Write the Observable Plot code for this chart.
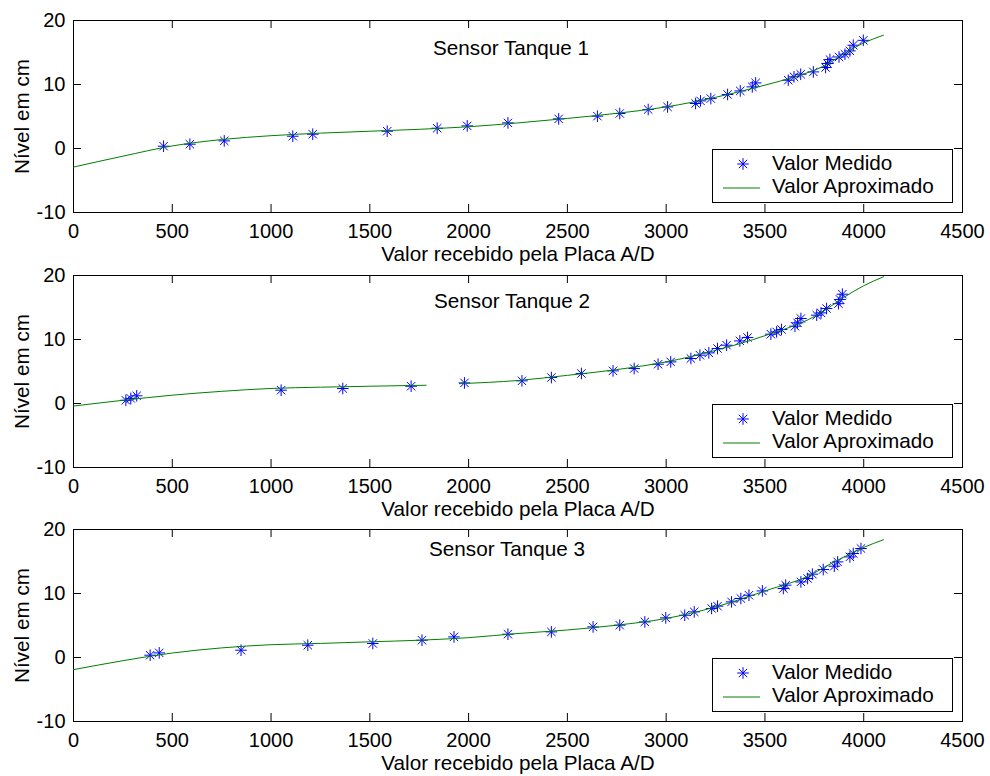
<!DOCTYPE html>
<html><head><meta charset="utf-8">
<script src="https://cdn.jsdelivr.net/npm/d3@7"></script>
<script src="https://cdn.jsdelivr.net/npm/@observablehq/plot@0.6"></script>
<style>
body{margin:0;background:#fff}
#chart{position:relative;width:990px;height:776px;overflow:hidden;background:#fff}
#chart svg{position:absolute;left:0}
</style>
</head><body><div id="chart"></div>
<script>
const xTicks = [0,500,1000,1500,2000,2500,3000,3500,4000,4500];
const yTicks = [-10,0,10,20];
const xLabel = "Valor recebido pela Placa A/D";
const yLabel = "Nível em cm";
const titles = ["Sensor Tanque 1","Sensor Tanque 2","Sensor Tanque 3"];
const legendLabels = ["Valor Medido","Valor Aproximado"];

// Tanque 1
const med1X = [456,589,763,1110,1211,1588,1841,1993,2199,2456,2652,2765,2909,3007,3149,3174,3226,3311,3375,3436,3453,3618,3647,3681,3745,3807,3817,3829,3875,3905,3930,3947,3998];
const med1Y = [0.36,0.67,1.19,1.92,2.23,2.70,3.17,3.53,4.0,4.63,5.05,5.47,6.09,6.5,7.03,7.44,7.8,8.44,9.0,9.63,10.25,10.67,11.2,11.6,11.97,12.66,13.28,13.9,14.3,14.73,15.25,16.14,16.9];
const apr1X = [0,250,500,750,1000,1250,1500,1750,2000,2250,2500,2750,3000,3250,3500,3650,3800,3900,4000,4100];
const apr1Y = [-2.9,-1.2,0.4,1.4,2.0,2.4,2.7,3.0,3.4,4.0,4.7,5.5,6.5,8.0,9.9,11.2,12.9,14.8,16.5,17.7];

// Tanque 2
const med2X = [265,290,320,1051,1363,1709,1979,2270,2419,2571,2731,2838,2959,3023,3125,3171,3216,3260,3306,3373,3412,3530,3559,3584,3652,3665,3682,3762,3784,3812,3872,3880,3892];
const med2Y = [0.5,0.8,1.2,2.08,2.34,2.7,3.22,3.54,4.06,4.69,5.1,5.46,6.14,6.5,7.03,7.55,7.91,8.59,9.11,9.78,10.31,10.83,11.19,11.56,12.08,12.6,13.28,13.8,14.16,14.84,15.6,16.25,17.08];
const apr2aX = [0,250,500,750,1000,1250,1500,1785];
const apr2aY = [-0.4,0.5,1.3,1.9,2.35,2.55,2.7,2.85];
const apr2bX = [1954,2250,2500,2750,3000,3250,3500,3750,3800,3900,4000,4100];
const apr2bY = [3.1,3.6,4.4,5.3,6.5,8.3,10.6,13.6,14.5,16.6,18.4,19.8];

// Tanque 3
const med3X = [388,434,848,1186,1515,1764,1926,2199,2419,2630,2765,2892,2998,3094,3142,3230,3260,3331,3378,3419,3487,3593,3605,3682,3716,3740,3795,3851,3868,3930,3947,3986];
const med3Y = [0.36,0.72,1.14,1.92,2.19,2.7,3.22,3.64,4.0,4.78,5.05,5.56,6.19,6.6,7.13,7.66,8.02,8.69,9.22,9.73,10.4,10.78,11.3,11.81,12.34,13.02,13.75,14.27,14.94,15.72,16.25,17.03];
const apr3X = [0,250,500,750,1000,1250,1500,1750,2000,2250,2500,2750,3000,3250,3500,3750,3800,3900,4000,4100];
const apr3Y = [-1.9,-0.5,0.7,1.5,2.0,2.2,2.45,2.7,3.1,3.75,4.3,5.05,6.1,7.9,10.4,13.2,14.1,15.7,17.2,18.4];

const zip = (xs, ys, seg=0) => xs.map((x,i)=>({x, y: ys[i], seg}));
const panels = [
  {title: titles[0], med: zip(med1X, med1Y), apr: zip(apr1X, apr1Y), top: 0, tdx: -7, tdy: 28},
  {title: titles[1], med: zip(med2X, med2Y), apr: [...zip(apr2aX, apr2aY, 0), ...zip(apr2bX, apr2bY, 1)], top: 255, tdx: -6, tdy: 26},
  {title: titles[2], med: zip(med3X, med3Y), apr: zip(apr3X, apr3Y), top: 509, tdx: -11, tdy: 20}
];

const star = {draw(ctx, size){
  const r = Math.sqrt(size/Math.PI), d = r*0.72;
  ctx.moveTo(-r,0); ctx.lineTo(r,0);
  ctx.moveTo(0,-r); ctx.lineTo(0,r);
  ctx.moveTo(-d,-d); ctx.lineTo(d,d);
  ctx.moveTo(-d,d); ctx.lineTo(d,-d);
}};

const W = 990, ML = 73, MR = 28, MT = 20, H = 267, FH = 192, MB = H - MT - FH;
const FW = W - ML - MR;
const font = "'Liberation Sans', Arial, Helvetica, sans-serif";
const TFS = 20.7;
const chart = document.getElementById("chart");

for (const p of panels) {
  const svg = Plot.plot({
    width: W, height: H,
    marginLeft: ML, marginRight: MR, marginTop: MT, marginBottom: MB,
    style: {fontSize: "20px", fontFamily: font, color: "black", background: "transparent", overflow: "visible"},
    x: {domain: [0, 4500]},
    y: {domain: [-10, 20]},
    marks: [
      Plot.frame({stroke: "black", strokeWidth: 1}),
      Plot.tickX(xTicks, {x: d => d, insetTop: FH - 8, stroke: "black"}),
      Plot.tickX(xTicks, {x: d => d, insetBottom: FH - 8, stroke: "black"}),
      Plot.tickY(yTicks, {y: d => d, insetRight: FW - 8, stroke: "black"}),
      Plot.tickY(yTicks, {y: d => d, insetLeft: FW - 8, stroke: "black"}),
      Plot.axisX(xTicks, {tickSize: 0, tickPadding: 11, label: null, tickFormat: d => String(d)}),
      Plot.axisY(yTicks, {tickSize: 0, tickPadding: 8, label: null, tickFormat: d => String(d)}),
      Plot.dot(p.med, {x: "x", y: "y", symbol: star, r: 5.8, stroke: "#0000ff", fill: "none", strokeWidth: 1}),
      Plot.line(p.apr, {x: "x", y: "y", z: "seg", stroke: "#008000", strokeWidth: 1, curve: "monotone-x"}),
      Plot.text([p.title], {text: d => d, frameAnchor: "top", lineAnchor: "middle", textAnchor: "middle", dx: p.tdx, dy: p.tdy, fill: "black", fontSize: TFS}),
      Plot.text([xLabel], {text: d => d, frameAnchor: "bottom", lineAnchor: "middle", textAnchor: "middle", dy: 41.5, fill: "black", fontSize: TFS}),
      Plot.text([yLabel], {text: d => d, frameAnchor: "left", lineAnchor: "middle", textAnchor: "middle", dx: -51, rotate: -90, fill: "black", fontSize: TFS})
    ]
  });
  svg.style.top = p.top + "px";
  chart.appendChild(svg);

  // legend
  const lx = ML + FW - 10 - 240, ly = MT + 129;
  const g = d3.select(svg).append("g").attr("font-family", font).attr("font-size", TFS)
    .attr("text-anchor", "start").attr("fill", "black");
  g.append("rect").attr("x", lx + 0.5).attr("y", ly + 0.5).attr("width", 240).attr("height", 53)
    .attr("fill", "white").attr("stroke", "black");
  const sr = 5.8, sd = sr*0.72, sx = lx + 31, sy = ly + 15;
  g.append("path").attr("d",
    `M${sx-sr},${sy}L${sx+sr},${sy}M${sx},${sy-sr}L${sx},${sy+sr}M${sx-sd},${sy-sd}L${sx+sd},${sy+sd}M${sx-sd},${sy+sd}L${sx+sd},${sy-sd}`)
    .attr("stroke", "#0000ff").attr("fill", "none");
  g.append("line").attr("x1", lx + 11).attr("x2", lx + 48).attr("y1", ly + 39).attr("y2", ly + 39)
    .attr("stroke", "#008000");
  g.append("text").attr("x", lx + 60).attr("y", ly + 14).attr("dy", "0.35em").text(legendLabels[0]);
  g.append("text").attr("x", lx + 60).attr("y", ly + 37).attr("dy", "0.35em").text(legendLabels[1]);
}
</script>
</body></html>
